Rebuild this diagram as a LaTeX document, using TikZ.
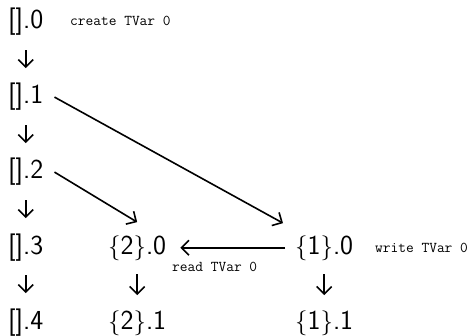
\documentclass[tikz,border=0pt]{standalone}
\usetikzlibrary{arrows.meta,calc}
\begin{document}
\begin{tikzpicture}[x=1pt,y=-1pt,
  main/.style={inner sep=0pt, anchor=base west, font=\sffamily\fontsize{27.5}{31}\selectfont},
  lbl/.style={inner sep=0pt, anchor=base west, font=\ttfamily\fontsize{15}{17}\selectfont},
  arr/.style={line width=1.6pt, -{Straight Barb[length=7.5pt,width=15pt,line width=1.6pt]}},
  vdown/.style={arr, shorten <=14pt, shorten >=15pt}]
\useasboundingbox (0,0) rectangle (470,336);
% left column
\node[main] (e0) at (8,29) {[].0};
\node[main] (e1) at (8,104) {[].1};
\node[main] (e2) at (8,179) {[].2};
\node[main] (e3) at (8,254) {[].3};
\node[main] (e4) at (8,329) {[].4};
% middle and right columns
\node[main] (t0) at (108,254) {$\{$2$\}$.0};
\node[main] (t1) at (108,329) {$\{$2$\}$.1};
\node[main] (w0) at (295,254) {$\{$1$\}$.0};
\node[main] (w1) at (295,329) {$\{$1$\}$.1};
% labels
\node[lbl] (lc) at (70,26) {create TVar 0};
\node[lbl] (lw) at (375,252) {write TVar 0};
\node[lbl] (lr) at (172,271) {read TVar 0};
% vertical arrows
\draw[vdown] (e0.south) -- (e1.north);
\draw[vdown] (e1.south) -- (e2.north);
\draw[vdown] (e2.south) -- (e3.north);
\draw[vdown] (e3.south) -- (e4.north);
\draw[vdown] (t0.south) -- (t1.north);
\draw[vdown] (w0.south) -- (w1.north);
% diagonal arrows
\draw[arr] ($(e1.east)+(11,0)$) -- ($(w0.north west)+(-12,-12)$);
\draw[arr] ($(e2.east)+(11,0)$) -- ($(t0.north)+(0,-13)$);
% horizontal arrow
\draw[arr] ($(w0.west)+(-10,0)$) -- ($(t0.east)+(14,0)$);
\end{tikzpicture}
\end{document}
